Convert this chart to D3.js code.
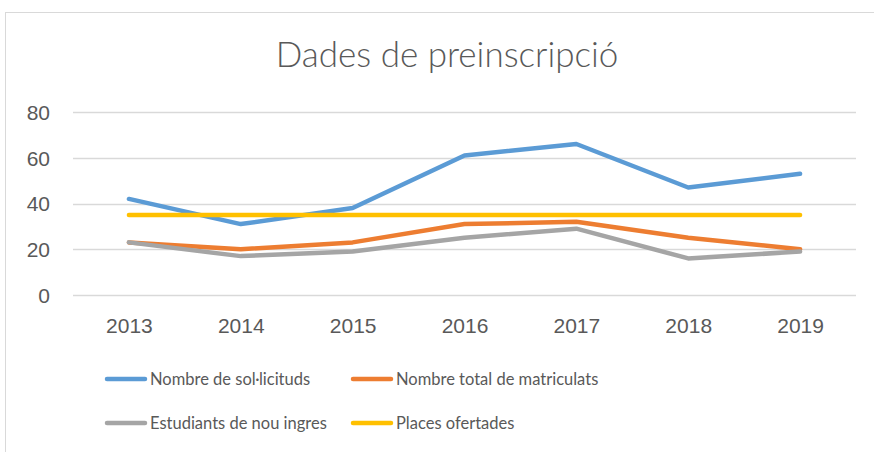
<!DOCTYPE html>
<html lang="ca">
<head>
  <meta charset="UTF-8" />
  <title>Dades de preinscripció</title>
  <script src="https://d3js.org/d3.v7.min.js"></script>
  <style>
    body {
      margin: 0;
      background: #fff;
      font-family: Lato, "Open Sans", sans-serif;
    }
    .axis text {
      fill: #595959;
      font-size: 21px;
    }
    .legend text {
      fill: #595959;
      font-size: 16.5px;
    }
  </style>
</head>
<body>
  <div id="chart"></div>
  <script>
    const years = ["2013", "2014", "2015", "2016", "2017", "2018", "2019"];
    const sollicituds = [42, 31, 38, 61, 66, 47, 53];
    const matriculats = [23, 20, 23, 31, 32, 25, 20];
    const nouIngres = [23, 17, 19, 25, 29, 16, 19];
    const places = [35, 35, 35, 35, 35, 35, 35];
    const yTicks = [0, 20, 40, 60, 80];

    const series = [
      { name: "Nombre de sol·licituds", values: sollicituds, color: "#5B9BD5" },
      { name: "Nombre total de matriculats", values: matriculats, color: "#ED7D31" },
      { name: "Estudiants de nou ingres", values: nouIngres, color: "#A5A5A5" },
      { name: "Places ofertades", values: places, color: "#FFC000" }
    ];

    const width = 874, height = 452;
    const plot = { left: 73, right: 856, top: 112, bottom: 295 };

    const svg = d3.select("#chart").append("svg")
      .attr("width", width)
      .attr("height", height);

    // chart frame
    svg.append("rect")
      .attr("x", 5.5).attr("y", 12.5)
      .attr("width", 880).attr("height", 450)
      .attr("fill", "none")
      .attr("stroke", "#d9d9d9");

    svg.append("text")
      .attr("x", 447)
      .attr("y", 67)
      .attr("text-anchor", "middle")
      .attr("fill", "#595959")
      .style("font-size", "35px")
      .style("font-weight", 300)
      .text("Dades de preinscripció");

    const x = d3.scalePoint().domain(years).range([plot.left, plot.right]).padding(0.5);
    const y = d3.scaleLinear().domain([0, 80]).range([plot.bottom, plot.top]);

    // gridlines
    svg.append("g")
      .selectAll("line")
      .data(yTicks)
      .join("line")
      .attr("x1", plot.left).attr("x2", plot.right)
      .attr("y1", d => Math.round(y(d)) + 0.5)
      .attr("y2", d => Math.round(y(d)) + 0.5)
      .attr("stroke", "#d9d9d9")
      .attr("stroke-width", 1.3);

    const yAxis = svg.append("g")
      .attr("class", "axis")
      .attr("transform", `translate(${plot.left},0)`)
      .call(d3.axisLeft(y).tickValues(yTicks).tickSize(0).tickPadding(23));
    yAxis.select(".domain").remove();
    yAxis.selectAll("text").attr("dy", "0.35em");

    const xAxis = svg.append("g")
      .attr("class", "axis")
      .attr("transform", `translate(0,${plot.bottom})`)
      .call(d3.axisBottom(x).tickSize(0).tickPadding(23));
    xAxis.select(".domain").remove();

    const line = d3.line()
      .x((d, i) => x(years[i]))
      .y(d => y(d));

    series.forEach(s => {
      svg.append("path")
        .datum(s.values)
        .attr("fill", "none")
        .attr("stroke", s.color)
        .attr("stroke-width", 4.5)
        .attr("stroke-linejoin", "round")
        .attr("stroke-linecap", "round")
        .attr("d", line);
    });

    // legend
    const legendPos = [[107, 379], [353, 379], [107, 423], [353, 423]];
    const legend = svg.append("g").attr("class", "legend");
    series.forEach((s, i) => {
      const [lx, ly] = legendPos[i];
      const row = legend.append("g").attr("transform", `translate(${lx},${ly})`);
      row.append("line")
        .attr("x1", 0).attr("x2", 38)
        .attr("stroke", s.color)
        .attr("stroke-width", 4.5)
        .attr("stroke-linecap", "round");
      row.append("text")
        .attr("x", 43)
        .attr("dy", "0.35em")
        .text(s.name);
    });
  </script>
</body>
</html>
